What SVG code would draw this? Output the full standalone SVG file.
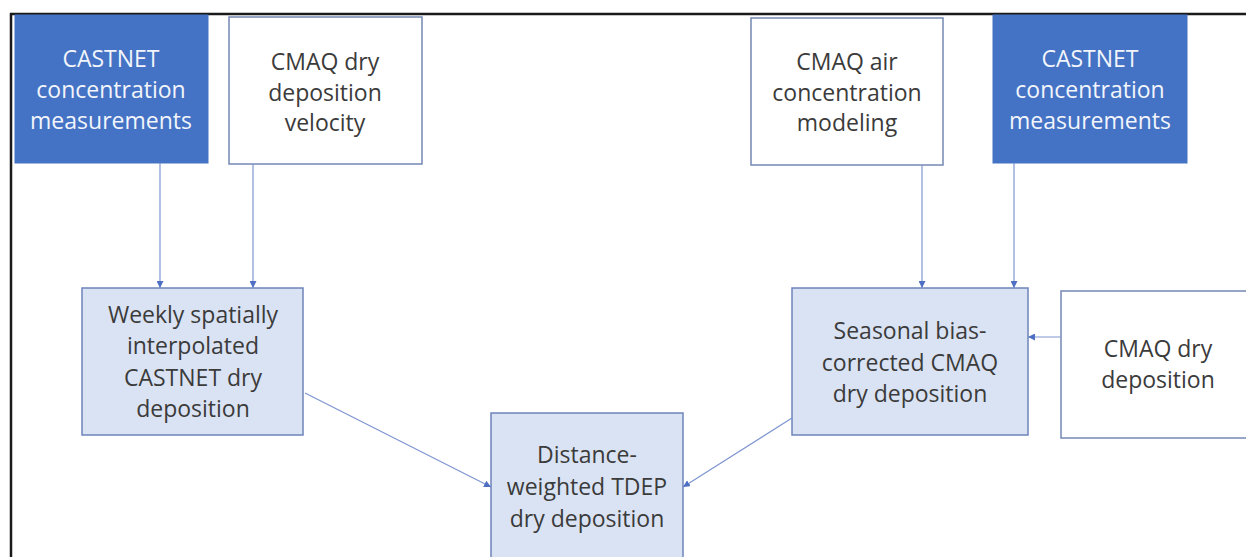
<svg xmlns="http://www.w3.org/2000/svg" width="1246" height="557" viewBox="0 0 1246 557">
<defs>
<style>
.frame{fill:none;stroke:#1a1a1a;stroke-width:2.5}
.dark{fill:#4472C4;stroke:#4472C4;stroke-width:1}
.white{fill:#ffffff;stroke:#7488B4;stroke-width:1.5}
.light{fill:#DAE3F3;stroke:#6E84BA;stroke-width:1.5}
text{font-family:"Open Sans","Lato","Liberation Sans",sans-serif;font-size:23px;text-anchor:middle}
.tw{fill:#F2F5FB}
.tk{fill:#3B3B3B}
.conn line{stroke:#7F95D0;stroke-width:1.2;fill:none}
</style>
<marker id="ah" viewBox="0 0 10 10" refX="10" refY="5" markerWidth="7" markerHeight="7" markerUnits="userSpaceOnUse" orient="auto">
<path d="M0,0 L10,5 L0,10 z" fill="#4F6FC4"/>
</marker>
</defs>
<rect width="1246" height="557" fill="#ffffff"/>
<path class="frame" d="M11,557 L11,14 L1246,14"/>

<g id="castnet-left">
<rect class="dark" x="15" y="15" width="193" height="148"/>
<text class="tw" x="111" y="67">CASTNET</text>
<text class="tw" x="111" y="98">concentration</text>
<text class="tw" x="111" y="129">measurements</text>
</g>
<g id="cmaq-velocity">
<rect class="white" x="229" y="17" width="193" height="147"/>
<text class="tk" x="325" y="70">CMAQ dry</text>
<text class="tk" x="325" y="101">deposition</text>
<text class="tk" x="325" y="131">velocity</text>
</g>
<g id="cmaq-air">
<rect class="white" x="751" y="18" width="192" height="147"/>
<text class="tk" x="847" y="70">CMAQ air</text>
<text class="tk" x="847" y="101">concentration</text>
<text class="tk" x="847" y="131">modeling</text>
</g>
<g id="castnet-right">
<rect class="dark" x="993" y="15" width="194" height="148"/>
<text class="tw" x="1090" y="67">CASTNET</text>
<text class="tw" x="1090" y="98">concentration</text>
<text class="tw" x="1090" y="129">measurements</text>
</g>
<g id="weekly">
<rect class="light" x="82" y="288" width="221" height="147"/>
<text class="tk" x="193" y="323">Weekly spatially</text>
<text class="tk" x="193" y="354">interpolated</text>
<text class="tk" x="193" y="386">CASTNET dry</text>
<text class="tk" x="193" y="417">deposition</text>
</g>
<g id="seasonal">
<rect class="light" x="792" y="288" width="236" height="147"/>
<text class="tk" x="910" y="339">Seasonal bias-</text>
<text class="tk" x="910" y="371">corrected CMAQ</text>
<text class="tk" x="910" y="402">dry deposition</text>
</g>
<g id="cmaq-drydep">
<rect class="white" x="1061" y="291" width="200" height="147"/>
<text class="tk" x="1158" y="357">CMAQ dry</text>
<text class="tk" x="1158" y="388">deposition</text>
</g>
<g id="distance">
<rect class="light" x="491" y="413" width="192" height="160"/>
<text class="tk" x="587" y="463">Distance-</text>
<text class="tk" x="587" y="495">weighted TDEP</text>
<text class="tk" x="587" y="527">dry deposition</text>
</g>

<g id="connectors" class="conn">
<line x1="160" y1="163" x2="160" y2="288" marker-end="url(#ah)"/>
<line x1="253" y1="164" x2="253" y2="288" marker-end="url(#ah)"/>
<line x1="922" y1="165" x2="922" y2="288" marker-end="url(#ah)"/>
<line x1="1014" y1="163" x2="1014" y2="288" marker-end="url(#ah)"/>
<line x1="1061" y1="337" x2="1028" y2="337" marker-end="url(#ah)"/>
<line x1="305" y1="393" x2="491" y2="487" marker-end="url(#ah)"/>
<line x1="792" y1="418" x2="683" y2="487" marker-end="url(#ah)"/>
</g>
</svg>
